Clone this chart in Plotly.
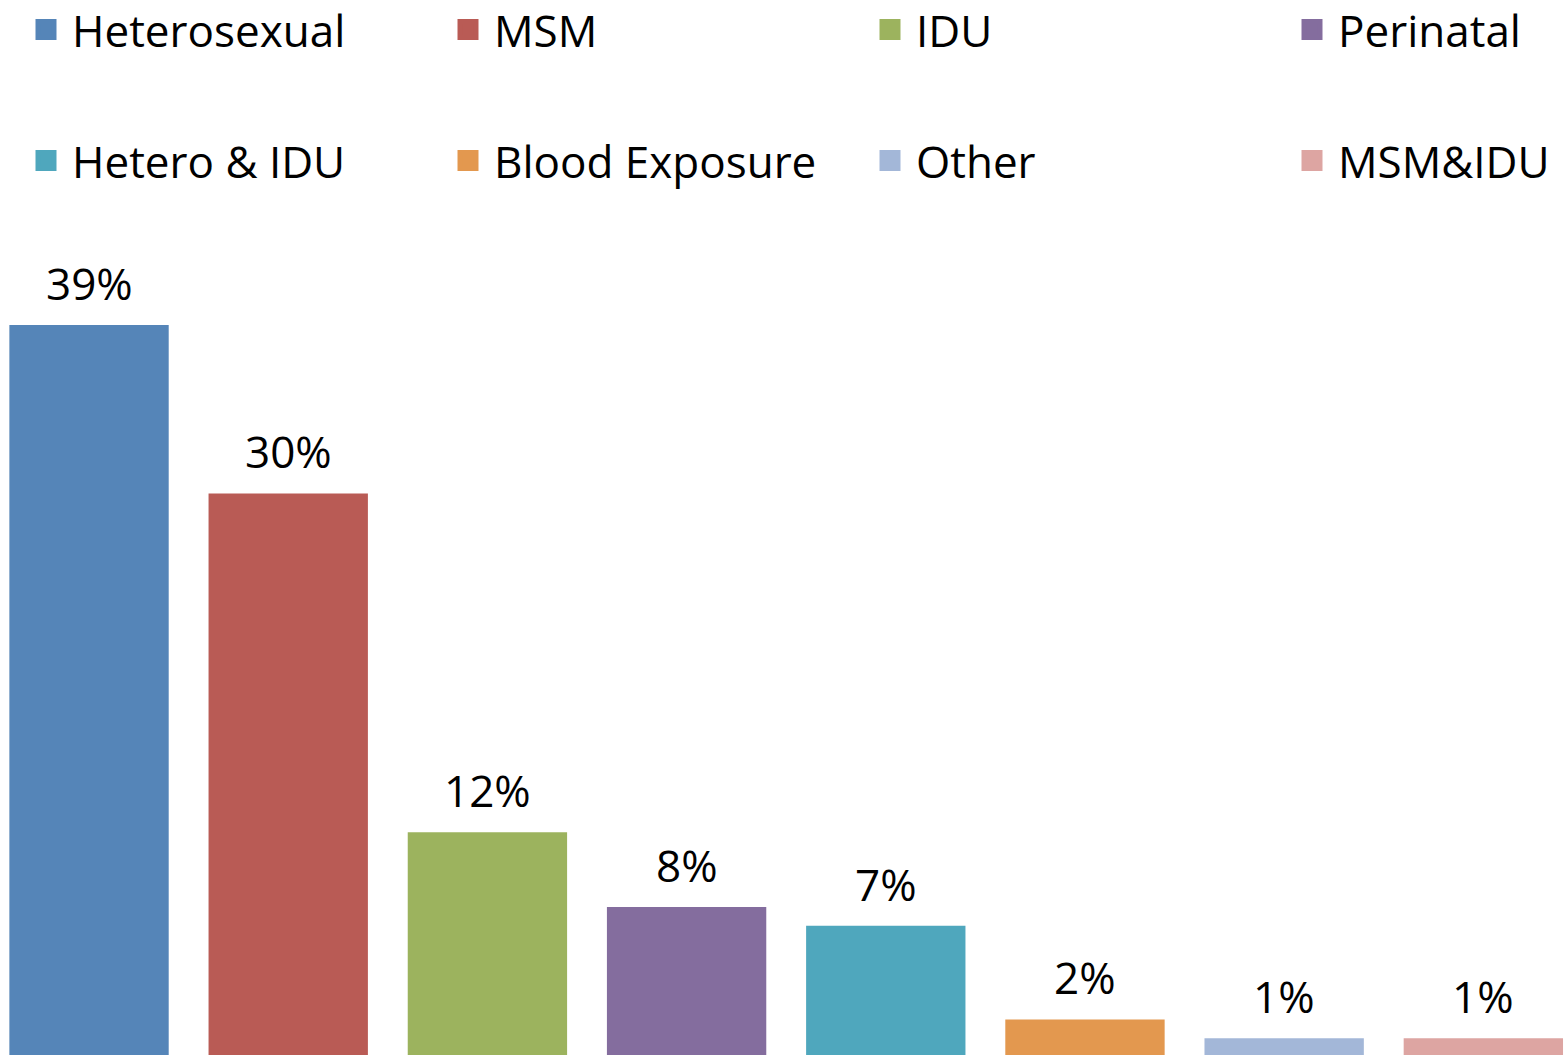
import plotly.graph_objects as go

categories = ["Heterosexual", "MSM", "IDU", "Perinatal",
              "Hetero & IDU", "Blood Exposure", "Other", "MSM&IDU"]
values = [39.0, 30.0, 11.9, 7.9, 6.9, 1.9, 0.9, 0.9]
labels = ["39%", "30%", "12%", "8%", "7%", "2%", "1%", "1%"]
colors = ["#5585B8", "#B95B55", "#9CB35E", "#846D9E",
          "#4FA7BD", "#E3984F", "#A3B7D8", "#DDA5A2"]

FONT = "Open Sans"
FS = 44
W, H = 1568, 1055
TOP = 250
ph = H - TOP


def ypix(p):
    return 1 + (TOP - p) / ph


fig = go.Figure()
legend_layout = {}
for i, (c, v, col) in enumerate(zip(categories, values, colors)):
    lg = "legend" if i == 0 else f"legend{i + 1}"
    fig.add_trace(go.Bar(x=[c], y=[v], width=0.8, marker_color=col,
                         marker_line_width=0, showlegend=False,
                         legendgroup=c, hoverinfo="skip"))
    fig.add_trace(go.Scatter(x=[None], y=[None], mode="markers", name=c,
                             legendgroup=c, legend=lg,
                             marker=dict(symbol="square", size=16, color=col,
                                         line=dict(color=col, width=5))))
    col_i, row_i = i % 4, i // 4
    legend_layout[lg] = dict(
        orientation="h", xanchor="left", yanchor="middle",
        x=(20 + 422 * col_i) / W, y=ypix(30 + 131 * row_i),
        font=dict(family=FONT, size=FS, color="black"),
        itemsizing="trace", itemwidth=42, bgcolor="rgba(0,0,0,0)")

for c, v, t in zip(categories, values, labels):
    fig.add_annotation(x=c, y=v, text=t, showarrow=False, yanchor="bottom",
                       yshift=10, font=dict(family=FONT, size=FS, color="black"))

fig.update_layout(
    width=W, height=H,
    margin=dict(l=0, r=0, t=TOP, b=0, autoexpand=False),
    barmode="overlay",
    plot_bgcolor="white", paper_bgcolor="white",
    xaxis=dict(type="category", categoryorder="array", categoryarray=categories,
               range=[-0.447, 7.425], visible=False),
    yaxis=dict(range=[0, ph / 18.72], visible=False),
    font=dict(family=FONT),
    **legend_layout,
)

fig.write_html("out.html",
               config={"displayModeBar": False},
               post_script="document.body.style.margin='0';"
                           "document.body.style.overflow='hidden';")
